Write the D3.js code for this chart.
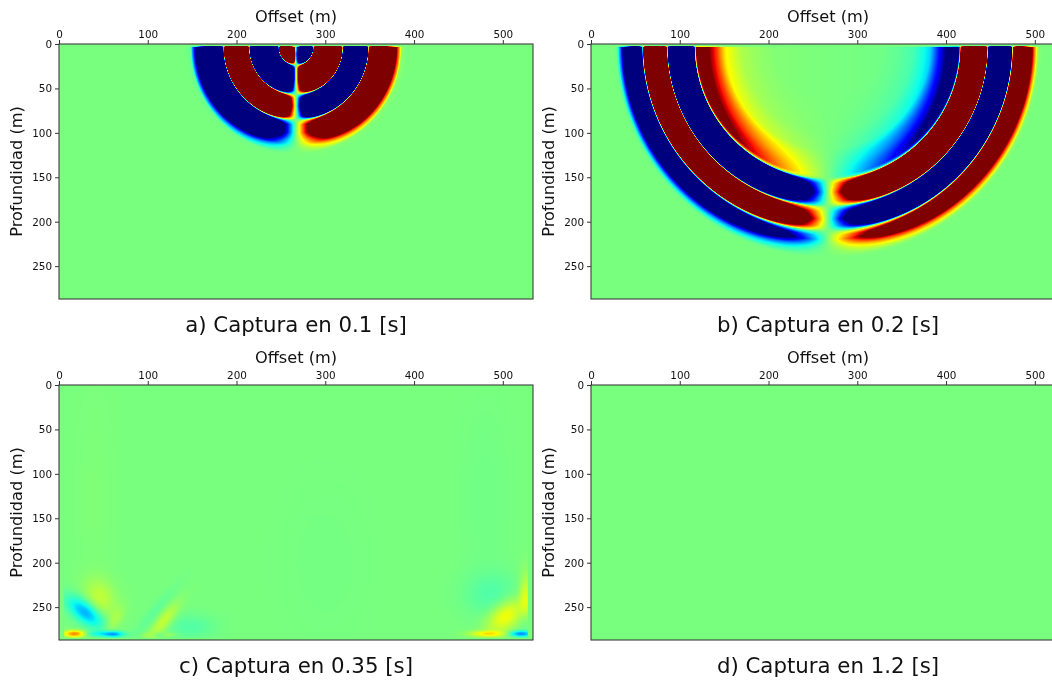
<!DOCTYPE html>
<html><head><meta charset="utf-8">
<script src="https://cdn.jsdelivr.net/npm/d3@7"></script>
<style>
html,body{margin:0;padding:0;background:#fff;overflow:hidden}
#wrap{position:relative;width:1052px;height:681px;overflow:hidden}
canvas{position:absolute;filter:blur(.45px)}
svg{position:absolute;left:0;top:0}
text{font-family:"DejaVu Sans",sans-serif;fill:#111}
</style></head><body><div id="wrap"></div>
<script>
// ---- tick labels & extents (metres) ----
const xTicks = [0,100,200,300,400,500];
const zTicks = [0,50,100,150,200,250];
const xExtent = [0,534];
const zExtent = [0,287];
const panelTitles = ["a) Captura en 0.1 [s]","b) Captura en 0.2 [s]","c) Captura en 0.35 [s]","d) Captura en 1.2 [s]"];

// ---- wavefront radial profile, read along the surface, right of the source ----
const sourceA = [267,4];
const radiusA = [0,3,8,14,18,19.5,21,24,36,48,51,52.6,54,57,66,77,80,81.5,83,87,96,104,108,111,114,117,119,125];
const ampA    = [0,-2,-9,-11,-4,0,4,10,15,10,4,0,-4,-10,-15,-10,-4,0,3,7,7.5,4,2.8,1.6,.85,.4,.05,0];

const sourceB = [266.5,2];
const radiusB = [0,60,80,97,105,116,125,132,140,146,148,149.5,151,155,165,175,179,180.5,182,186,195,203,206.5,208.2,210,213,218,222,226,230,233,236,238,242];
const ampB    = [0,-.02,-.06,-.12,-.2,-.33,-.7,-.95,-1.3,-1.5,-1,0,3,7,11,7,3,0,-3,-7,-11,-7,-3,0,2,4.5,6,4,2.2,1.1,.6,.2,.03,0];

// ---- residual energy patches at 0.35 s ----
const patchX    = [30,18,46,62,61,44,118,108,148,100,112,124,503,526,488,520,482,525,40,480,300];
const patchZ    = [256,280,240,266,280.5,280,266,256,272,281,281,281,260,240,236,280,280,265,130,130,200];
const patchLong = [17,8.5,16,13,8,18,17,28,20,6,5,6,17,20,18,9,14,12,80,80,70];
const patchWide = [8,2.6,12,5,2.4,2.4,5.5,5,10,1.8,1.8,1.8,10,5,22,2.4,2.4,5,14,22,40];
const patchTilt = [38,0,70,-60,0,0,-52,-50,0,0,0,0,-40,90,90,0,0,90,90,90,90];
const patchAmp  = [-.42,.6,.16,.1,-.34,-.18,.19,-.06,-.09,.06,-.1,.09,.3,.22,-.09,-.46,.3,-.1,.012,-.02,-.012];

// ---- jet colour ramp ----
const jetStops  = [0,.11,.125,.34,.35,.375,.64,.65,.66,.89,.91,1];
const jetColors = ["#00007f","#0000ff","#0000ff","#00d9ff","#00e5f7","#0cffeb","#f4ff03","#feff00","#ffef00","#ff1400","#ea0000","#7f0000"];

const W=474,H=255;
const panels=[
 {l:59,t:44,radius:radiusA,amp:ampA,src:sourceA},
 {l:591,t:44,radius:radiusB,amp:ampB,src:sourceB},
 {l:59,t:385,patches:true},
 {l:591,t:385}
];
const color=d3.scaleLinear().domain(jetStops).range(jetColors).interpolate(d3.interpolateRgb).clamp(true);
const lut=d3.range(1025).map(i=>d3.rgb(color(i/1024)));
const x=d3.scaleLinear().domain(xExtent).range([0,W]);
const z=d3.scaleLinear().domain(zExtent).range([0,H]);
const wrap=d3.select("#wrap");

function fieldFn(p){
  if(p.radius){
    const g=d3.scaleLinear().domain(p.radius).range(p.amp).clamp(true);
    return (xv,zv)=>{
      const dx=xv-p.src[0],dz=zv-p.src[1],r=Math.hypot(dx,dz)||1e-3;
      const top=Math.max(0,Math.min(1,(zv-2.6)/1));
      return g(r)*(dx/r)*top;
    };
  }
  if(p.patches){
    const pre=patchAmp.map((a,i)=>{const t=patchTilt[i]*Math.PI/180;return{a,cx:patchX[i],cz:patchZ[i],c:Math.cos(t),s:Math.sin(t),L:patchLong[i],S:patchWide[i]};});
    return (xv,zv)=>{
      if(xv<6||xv>528||zv>285) return 0;
      let v=0;
      for(const b of pre){
        const dx=xv-b.cx,dz=zv-b.cz,u=(dx*b.c+dz*b.s)/b.L,w=(-dx*b.s+dz*b.c)/b.S;
        v+=b.a*Math.exp(-.5*(u*u+w*w));
      }
      return v;
    };
  }
  return ()=>0;
}
panels.forEach(p=>{
  const cv=wrap.append("canvas").attr("width",W).attr("height",H)
    .style("left",p.l+"px").style("top",p.t+"px").node();
  const ctx=cv.getContext("2d"),img=ctx.createImageData(W,H),f=fieldFn(p);
  for(let j=0;j<H;j++)for(let i=0;i<W;i++){
    const v=f(x.invert(i+.5),z.invert(j+.5));
    const c=lut[Math.round((Math.max(-1,Math.min(1,v))+1)/2*1024)];
    const k=(j*W+i)*4;
    img.data[k]=c.r;img.data[k+1]=c.g;img.data[k+2]=c.b;img.data[k+3]=255;
  }
  ctx.putImageData(img,0,0);
});
const svg=wrap.append("svg").attr("width",1052).attr("height",681);
panels.forEach((p,i)=>{
  const g=svg.append("g").attr("transform",`translate(${p.l},${p.t})`);
  const ax=g.append("g").call(d3.axisTop(x).tickValues(xTicks).tickSize(4).tickPadding(2).tickFormat(d3.format("d")));
  const ay=g.append("g").call(d3.axisLeft(z).tickValues(zTicks).tickSize(4).tickPadding(3).tickFormat(d3.format("d")));
  [ax,ay].forEach(a=>{a.selectAll("text").style("font-size","10.4px");a.selectAll("line").attr("stroke","#333");a.select(".domain").remove();});
  g.append("rect").attr("x",0).attr("y",0).attr("width",W).attr("height",H).attr("fill","none").attr("stroke","#3c3c3c").attr("stroke-width",1.1);
  g.append("text").attr("x",W/2).attr("y",-22).attr("text-anchor","middle").style("font-size","16.2px").text("Offset (m)");
  g.append("text").attr("transform",`translate(-37,${H/2}) rotate(-90)`).attr("text-anchor","middle").style("font-size","16.2px").text("Profundidad (m)");
  g.append("text").attr("x",W/2).attr("y",H+33).attr("text-anchor","middle").style("font-size","21.3px").text(panelTitles[i]);
});
</script></body></html>
